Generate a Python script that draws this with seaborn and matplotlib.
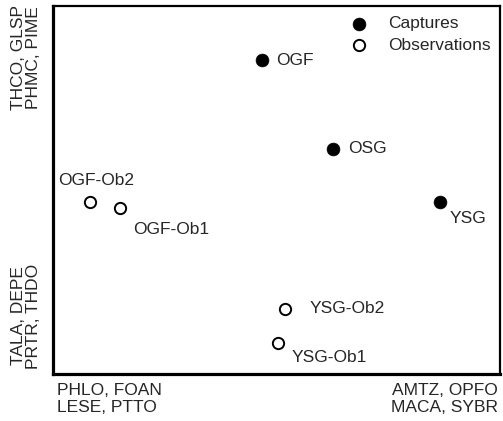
import matplotlib
matplotlib.use("Agg")
import matplotlib.pyplot as plt
import seaborn as sns
import pandas as pd

sns.set_style("white")
plt.rcParams['font.family'] = ['Liberation Sans', 'DejaVu Sans']

# data (ordination scores, axis-fraction units)
cap_names = ["OGF", "OSG", "YSG"]
cap_x = [0.468, 0.626, 0.866]
cap_y = [0.853, 0.612, 0.467]

obs_names = ["OGF-Ob2", "OGF-Ob1", "YSG-Ob2", "YSG-Ob1"]
obs_x = [0.083, 0.150, 0.519, 0.503]
obs_y = [0.467, 0.451, 0.177, 0.084]

y_top_label = "THCO, GLSP\nPHMC, PIME"
y_bot_label = "TALA, DEPE\nPRTR, THDO"
x_left_label = "PHLO, FOAN\nLESE, PTTO"
x_right_label = "AMTZ, OPFO\nMACA, SYBR"

W, H = 503, 421
fig = plt.figure(figsize=(W / 100, H / 100), dpi=100)
ax = fig.add_axes([53 / W, (H - 374) / H, (500 - 53) / W, (374 - 6) / H])

cap = pd.DataFrame({"name": cap_names, "x": cap_x, "y": cap_y})
obs = pd.DataFrame({"name": obs_names, "x": obs_x, "y": obs_y})

sns.scatterplot(data=cap, x="x", y="y", ax=ax, s=85, color="black",
                edgecolor="black", linewidth=0.5, label="Captures", zorder=3)
sns.scatterplot(data=obs, x="x", y="y", ax=ax, s=66, facecolor="white",
                edgecolor="black", linewidth=1.4, label="Observations", zorder=3)

ax.set_xlim(0, 1)
ax.set_ylim(0, 1)
ax.set_xticks([])
ax.set_yticks([])
ax.set_xlabel("")
ax.set_ylabel("")

for side in ["left", "bottom"]:
    ax.spines[side].set_linewidth(2.3)
for side in ["top", "right"]:
    ax.spines[side].set_linewidth(1.6)
for sp in ax.spines.values():
    sp.set_color("black")
    sp.set_visible(True)

fs = 12.5
offsets = {
    "OGF": (14, 0, "left", "center"),
    "OSG": (15, 0, "left", "center"),
    "YSG": (9, -16, "left", "center"),
    "OGF-Ob2": (-32, 22, "left", "center"),
    "OGF-Ob1": (13, -21, "left", "center"),
    "YSG-Ob2": (25, 0, "left", "center"),
    "YSG-Ob1": (14, -14, "left", "center"),
}
for df in (cap, obs):
    for _, r in df.iterrows():
        dx, dy, ha, va = offsets[r["name"]]
        ax.annotate(r["name"], (r["x"], r["y"]), xytext=(dx, dy),
                    textcoords="offset pixels", ha=ha, va=va, fontsize=fs)

leg = ax.legend(loc="upper right", frameon=False, fontsize=fs,
                bbox_to_anchor=(1.006, 1.005), handletextpad=0.65,
                labelspacing=0.35, borderaxespad=0.3)

fig.text(26 / W, 1 - 58 / H, y_top_label, rotation=90, ha="center", va="center",
         fontsize=fs, linespacing=1.05)
fig.text(26 / W, 1 - 316 / H, y_bot_label, rotation=90, ha="center", va="center",
         fontsize=fs, linespacing=1.05)
fig.text(57 / W, 1 - 383 / H, x_left_label, ha="left", va="top",
         fontsize=fs, linespacing=1.15)
fig.text(498 / W, 1 - 383 / H, x_right_label, ha="right", va="top",
         fontsize=fs, linespacing=1.15)

fig.savefig("out.png", dpi=100)
